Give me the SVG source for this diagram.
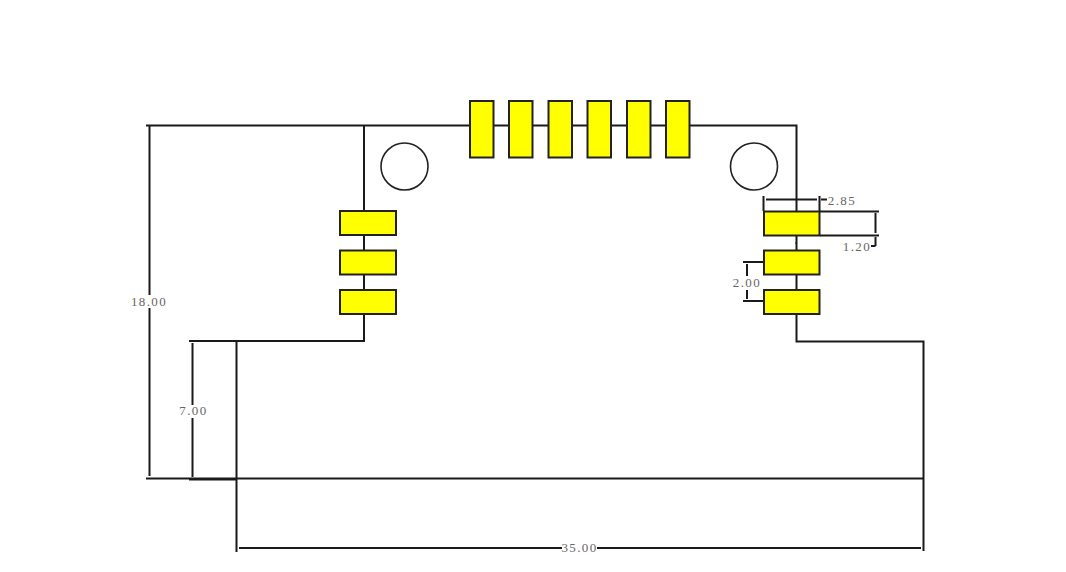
<svg xmlns="http://www.w3.org/2000/svg" width="1066" height="572" viewBox="0 0 1066 572">
<style>
.l{fill:none;stroke:#1a1a1a;stroke-width:2}
.p{fill:#ffff00;stroke:#222;stroke-width:2}
.h{fill:#fff;stroke:#222;stroke-width:1.6}
.t{font-family:"Liberation Serif","Noto Sans CJK SC",serif;font-size:13px;fill:#666;letter-spacing:1.4px;text-anchor:middle}
</style>
<rect width="1066" height="572" fill="#fff"/>
<g id="connectors">
<path class="l" d="M146 125.500H796.500V212M796.500 236V251M796.500 274V290M796.500 314V341.500H923.500V551"/>
<path class="l" d="M364 125.500V211M364 235V251M364 274V290M364 314V341H236.500V552"/>
<path class="l" d="M146 478.500H923.500"/>
<path class="l" d="M149.500 126V295M149.500 308V476"/>
<path class="l" d="M189 341H236.500M192.500 343V405M192.500 418V477M189 479.500H236.500"/>
<path class="l" d="M239 548H562M597 548H921"/>
<path class="l" d="M763.500 196V211M819.500 196V211M766 199.500H817M821 199.500H827"/>
<path class="l" d="M820 211.500H879M820 235.500H879M875.500 213V233M875.500 237V246M875.500 246H871"/>
<path class="l" d="M743 262H764M743 301H764M747 264V276M747 290V299M795.500 243H797"/>
</g>
<g id="hole-left"><circle class="h" cx="404.500" cy="166.500" r="23.500"/></g>
<g id="hole-right"><circle class="h" cx="754" cy="166.500" r="23.500"/></g>
<g id="top-pads">
<rect class="p" x="470" y="101" width="23.500" height="56.500"/>
<rect class="p" x="509" y="101" width="23.500" height="56.500"/>
<rect class="p" x="548.500" y="101" width="23.500" height="56.500"/>
<rect class="p" x="587.500" y="101" width="23.500" height="56.500"/>
<rect class="p" x="627" y="101" width="23.500" height="56.500"/>
<rect class="p" x="666" y="101" width="23.500" height="56.500"/>
</g>
<g id="left-pads">
<rect class="p" x="340" y="211" width="56" height="24"/>
<rect class="p" x="340" y="250.500" width="56" height="24"/>
<rect class="p" x="340" y="290" width="56" height="24"/>
</g>
<g id="right-pads">
<rect class="p" x="764" y="211.500" width="55.500" height="24"/>
<rect class="p" x="764" y="250.500" width="55.500" height="24"/>
<rect class="p" x="764" y="290" width="55.500" height="24"/>
</g>
<g id="labels">
<text class="t" x="149" y="306">18.00</text>
<text class="t" x="193.500" y="415">7.00</text>
<text class="t" x="579.500" y="552">35.00</text>
<text class="t" x="842" y="204.500">2.85</text>
<text class="t" x="857" y="250.500">1.20</text>
<text class="t" x="747" y="287">2.00</text>
</g>
</svg>
